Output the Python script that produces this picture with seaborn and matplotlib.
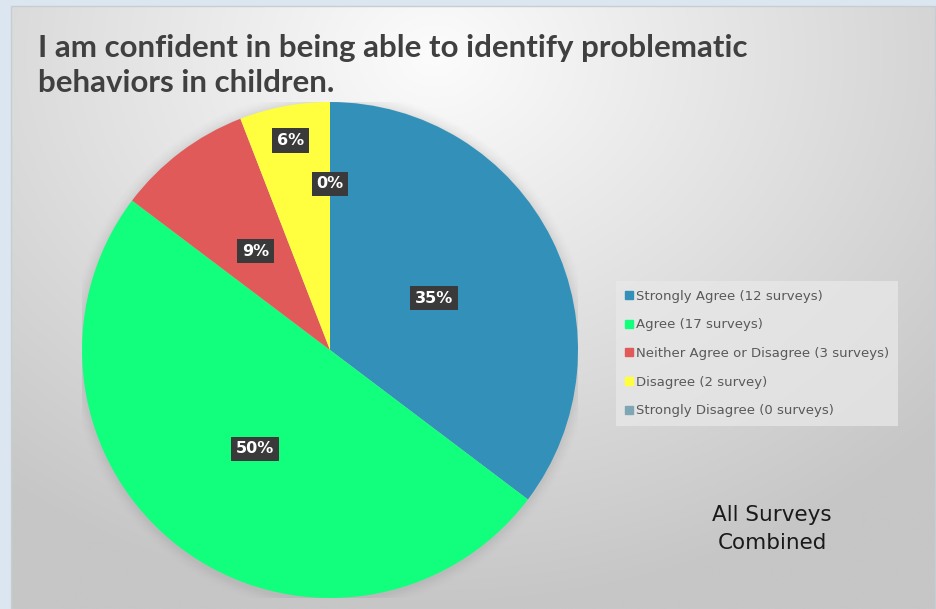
import numpy as np
import matplotlib
matplotlib.use("Agg")
import matplotlib.pyplot as plt
import seaborn as sns
from matplotlib.patches import Rectangle, Circle
from matplotlib.lines import Line2D

# ---- data ----
categories = ["Strongly Agree", "Agree", "Neither Agree or Disagree", "Disagree", "Strongly Disagree"]
surveys = [12, 17, 3, 2, 0]
legend_labels = ["Strongly Agree (12 surveys)", "Agree (17 surveys)",
                 "Neither Agree or Disagree (3 surveys)", "Disagree (2 survey)",
                 "Strongly Disagree (0 surveys)"]
colors = ["#3391B9", "#12FF7D", "#E05A5A", "#FFFF40", "#7FA6B5"]
title = "I am confident in being able to identify problematic\nbehaviors in children."
note = "All Surveys\nCombined"

sns.set_theme(style="white")
plt.rcParams['font.family'] = ['DejaVu Sans']
palette = sns.color_palette(colors)

W, H = 937, 609
fig = plt.figure(figsize=(W / 100, H / 100), dpi=100)
fig.patch.set_facecolor("#DCE6F0")

# background gradient panel
bg = fig.add_axes([0, 0, 1, 1])
bg.axis("off")
yy, xx = np.mgrid[0:H, 0:W]
d = np.hypot((xx - 430) / 1.25, (yy - 50))
v = np.clip(252 - 54 * (d / 560), 198, 252) / 255.0
img = np.dstack([v, v, v])
bg.imshow(img, extent=(11, 935, H, 6), zorder=0, aspect="auto")
bg.add_patch(Rectangle((11, 6), 924, H - 6, fill=False, ec="#C8CDD4", lw=1, zorder=1))
bg.set_xlim(0, W)
bg.set_ylim(H, 0)

# pie axes
cx, cy, r = 330, 350, 248
ax = fig.add_axes([(cx - r) / W, (H - cy - r) / H, 2 * r / W, 2 * r / H])
# soft shadow
for i, a in enumerate(np.linspace(0.05, 0.01, 6)):
    ax.add_patch(Circle((0.0, -0.005), 1.0 + 0.008 * (i + 1), color="#888888", alpha=a, lw=0, zorder=0))
wedges, _ = ax.pie(surveys, colors=palette, startangle=90, counterclock=False,
                   radius=1.0, wedgeprops=dict(lw=0))
for w in wedges:
    w.set_zorder(2)
ax.set_xlim(-1, 1)
ax.set_ylim(-1, 1)
ax.set_aspect("auto")
ax.axis("off")

total = sum(surveys)
label_r = [0.47, 0.50, 0.50, 0.86, 0.67]
for w, n, rr in zip(wedges, surveys, label_r):
    ang = np.deg2rad((w.theta1 + w.theta2) / 2)
    pct = round(100 * n / total)
    ax.text(rr * np.cos(ang), rr * np.sin(ang), f"{pct}%", ha="center", va="center",
            color="white", fontsize=11.5, fontweight="bold", zorder=5,
            bbox=dict(boxstyle="square,pad=0.3", fc="#3A3A3A", ec="none"))

# title
fig.text(38 / W, 1 - 34 / H, title, ha="left", va="top", fontsize=22.5, fontweight="bold",
         color="#404040", linespacing=1.3, family=['Lato', 'DejaVu Sans'])

# note
fig.text(772 / W, 1 - 529 / H, note, ha="center", va="center", fontsize=15.5,
         color="#1A1A1A", linespacing=1.5)

# legend
handles = [Line2D([], [], marker="s", ls="", color=c, markersize=6) for c in colors]
leg = fig.legend(handles, legend_labels, loc="upper left",
                 bbox_to_anchor=(613 / W, 1 - 278 / H), frameon=True,
                 fontsize=9.5, handlelength=0.6, handletextpad=0.25,
                 labelspacing=1.18, borderpad=0.4, labelcolor="#595959")
fr = leg.get_frame()
fr.set_facecolor("#E8E8E8")
fr.set_alpha(0.75)
fr.set_edgecolor("none")
fr.set_boxstyle("square")

fig.savefig("out.png", dpi=100, facecolor=fig.get_facecolor())
